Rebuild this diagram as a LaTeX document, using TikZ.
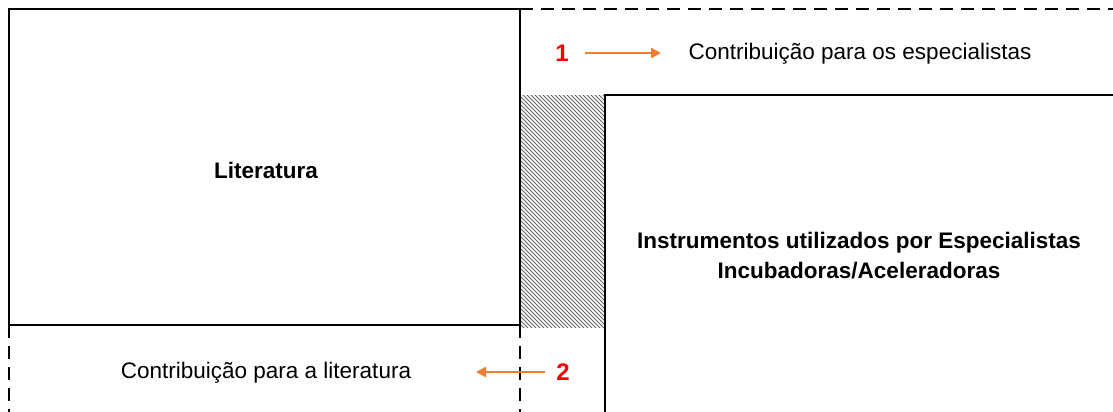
\documentclass[tikz,border=0pt]{standalone}
\usepackage{fontspec}
\setmainfont{Liberation Sans}
\usetikzlibrary{patterns,arrows.meta}
\definecolor{arroworange}{RGB}{237,125,49}
\definecolor{numred}{RGB}{255,0,0}
% diagonal hatching with a slightly wider spacing than the stock pattern
\pgfdeclarepatternformonly{wide hatch}{\pgfqpoint{-1pt}{-1pt}}{\pgfqpoint{5pt}{5pt}}{\pgfqpoint{4pt}{4pt}}{%
  \pgfsetlinewidth{0.8pt}
  \pgfpathmoveto{\pgfqpoint{0pt}{4pt}}
  \pgfpathlineto{\pgfqpoint{4.1pt}{-0.1pt}}
  \pgfusepath{stroke}
}
\tikzset{
  frame/.style={line width=2.9pt, line cap=rect},
  dashframe/.style={line width=2.9pt, dash pattern=on 13pt off 8pt},
  label/.style={font=\fontsize{22.5}{26}\selectfont, inner sep=0pt},
  title/.style={font=\bfseries\fontsize{22.5}{30}\selectfont, align=center, inner sep=0pt},
  num/.style={font=\bfseries\fontsize{24}{26}\selectfont, text=numred, inner sep=0pt},
  flow/.style={draw=arroworange, line width=2.6pt, -{Triangle[length=10pt,width=10pt]}}
}
\begin{document}
\begin{tikzpicture}[x=1pt,y=-1pt]
  \useasboundingbox (0,0) rectangle (1113,412);
  % hatched gap between the two blocks
  \fill[pattern=wide hatch, pattern color=black!60] (521,95) rectangle (604,327);
  % literature block
  \draw[frame] (9,9) rectangle (520,325);
  \node[title] (lit) at (266,170) {Literatura};
  % open extensions of the literature block
  \draw[dashframe] (9,325) -- (9,412);
  \draw[dashframe] (520,325) -- (520,412);
  \draw[dashframe] (520,9) -- (1113,9);
  % instruments block, running off the right and bottom edges
  \draw[frame] (605,412) -- (605,95) -- (1113,95);
  \node[title] (inst) at (859,256) {Instrumentos utilizados por Especialistas\\Incubadoras/Aceleradoras};
  % contribution 1
  \node[num] (n1) at (562,53) {1};
  \node[label] (c1) at (860,54) {Contribuição para os especialistas};
  \coordinate (a1s) at (585,53);
  \coordinate (a1e) at (661,53);
  \draw[flow] (a1s) -- (a1e);
  % contribution 2
  \node[num] (n2) at (563,372) {2};
  \node[label] (c2) at (266,373) {Contribuição para a literatura};
  \coordinate (a2s) at (545,372);
  \coordinate (a2e) at (476,372);
  \draw[flow] (a2s) -- (a2e);
\end{tikzpicture}
\end{document}
